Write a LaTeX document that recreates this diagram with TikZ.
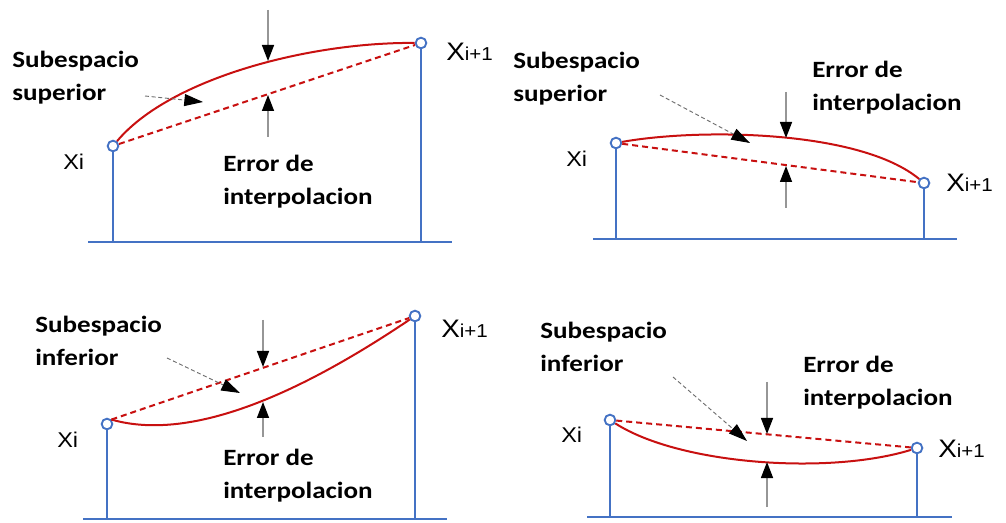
\documentclass[tikz,border=0pt]{standalone}
\usepackage{fontspec}
\usepackage{xcolor}
\usepackage{tikz}
\usetikzlibrary{arrows.meta, positioning, calc}

\newfontfamily\lblfont[FakeStretch=1.16]{Carlito}
\newfontfamily\xfont[FakeStretch=1.1]{Liberation Sans}

\definecolor{axisblue}{RGB}{68,114,196}
\definecolor{curvered}{RGB}{200,16,16}
\definecolor{shaftgray}{RGB}{150,150,150}
\definecolor{hintgray}{RGB}{110,110,110}

\newcommand{\xsub}{{\xfont\fontsize{16}{18}\selectfont Xi}}
\newcommand{\xsubnext}{{\xfont\fontsize{19}{21}\selectfont X\fontsize{14}{16}\selectfont i+1}}

\begin{document}
\begin{tikzpicture}[
          x=0.75pt, y=-0.75pt,
          pt/.style={circle, draw=axisblue, fill=white, line width=1.4pt, minimum size=8pt, inner sep=0pt},
          stem/.style={draw=axisblue, line width=1.6pt},
          ground/.style={draw=axisblue, line width=1.6pt},
          curve/.style={draw=curvered, line width=1.5pt},
          chord/.style={draw=curvered, line width=1.5pt, dash pattern=on 4.5pt off 3pt},
          errarrow/.style={draw=shaftgray, line width=1.1pt, -{Triangle[length=12pt, width=9pt, black]}},
          hintarrow/.style={draw=hintgray, line width=0.7pt, dash pattern=on 3pt off 2pt, -{Triangle[length=14pt, width=9pt, black]}},
          lbl/.style={font=\lblfont\bfseries\fontsize{17.5}{25}\selectfont, align=left, inner sep=0pt, anchor=north west},
          xlbl/.style={inner sep=0pt, anchor=base west}
        ]
          \useasboundingbox (0,0) rectangle (1006,523);

          % top left: upper subspace, rising
          \coordinate (g1l) at (88,242);
          \coordinate (g1r) at (452,242);
          \node[pt] (a1) at (113,146) {};
          \node[pt] (b1) at (421,43) {};
          \draw[ground] (g1l) -- (g1r);
          \draw[stem] (a1) -- (a1 |- g1l);
          \draw[stem] (b1) -- (b1 |- g1l);
          \draw[curve] (a1) .. controls (170,78) and (310,42) .. (b1);
          \draw[chord] (a1) -- (b1);
          \coordinate (t1) at (268,10);
          \coordinate (c1) at (268,61);
          \coordinate (d1) at (268,95);
          \coordinate (u1) at (268,137);
          \draw[errarrow] (t1) -- (c1);
          \draw[errarrow] (u1) -- (d1);
          \coordinate (h1) at (145,96);
          \coordinate (k1) at (203,102);
          \draw[hintarrow] (h1) -- (k1);
          \node[lbl] (s1) at (12,51) {Subespacio\\superior};
          \node[lbl] (e1) at (223,155) {Error de\\interpolacion};
          \node[xlbl] (x1) at (63,170) {\xsub};
          \node[xlbl] (y1) at (446,61) {\xsubnext};

          % top right: upper subspace, falling
          \coordinate (g2l) at (593,239);
          \coordinate (g2r) at (957,239);
          \node[pt] (a2) at (616,143) {};
          \node[pt] (b2) at (924,183) {};
          \draw[ground] (g2l) -- (g2r);
          \draw[stem] (a2) -- (a2 |- g2l);
          \draw[stem] (b2) -- (b2 |- g2l);
          \draw[curve] (a2) .. controls (700,128) and (860,130) .. (b2);
          \draw[chord] (a2) -- (b2);
          \coordinate (t2) at (786,92);
          \coordinate (c2) at (786,138);
          \coordinate (d2) at (786,166);
          \coordinate (u2) at (786,208);
          \draw[errarrow] (t2) -- (c2);
          \draw[errarrow] (u2) -- (d2);
          \coordinate (h2) at (660,95);
          \coordinate (k2) at (750,143);
          \draw[hintarrow] (h2) -- (k2);
          \node[lbl] (s2) at (513,52) {Subespacio\\superior};
          \node[lbl] (e2) at (812,61) {Error de\\interpolacion};
          \node[xlbl] (x2) at (566,167) {\xsub};
          \node[xlbl] (y2) at (946,192) {\xsubnext};

          % bottom left: lower subspace, rising
          \coordinate (g3l) at (83,519);
          \coordinate (g3r) at (447,519);
          \node[pt] (a3) at (107,424) {};
          \node[pt] (b3) at (415,316) {};
          \draw[ground] (g3l) -- (g3r);
          \draw[stem] (a3) -- (a3 |- g3l);
          \draw[stem] (b3) -- (b3 |- g3l);
          \draw[curve] (a3.north east) .. controls (200,445) and (320,380) .. (b3);
          \draw[chord] (a3.north east) -- (b3);
          \coordinate (t3) at (263,320);
          \coordinate (c3) at (263,367);
          \coordinate (d3) at (263,402);
          \coordinate (u3) at (263,437);
          \draw[errarrow] (t3) -- (c3);
          \draw[errarrow] (u3) -- (d3);
          \coordinate (h3) at (167,358);
          \coordinate (k3) at (240,393);
          \draw[hintarrow] (h3) -- (k3);
          \node[lbl] (s3) at (35,316) {Subespacio\\inferior};
          \node[lbl] (e3) at (223,449) {Error de\\interpolacion};
          \node[xlbl] (x3) at (57,447) {\xsub};
          \node[xlbl] (y3) at (441,338) {\xsubnext};

          % bottom right: lower subspace, falling
          \coordinate (g4l) at (587,517);
          \coordinate (g4r) at (952,517);
          \node[pt] (a4) at (610,420) {};
          \node[pt] (b4) at (917,448) {};
          \draw[ground] (g4l) -- (g4r);
          \draw[stem] (a4) -- (a4 |- g4l);
          \draw[stem] (b4) -- (b4 |- g4l);
          \draw[curve] (a4) .. controls (680,465) and (830,475) .. (b4);
          \draw[chord] (a4) -- (b4);
          \coordinate (t4) at (767,382);
          \coordinate (c4) at (767,434);
          \coordinate (d4) at (767,462);
          \coordinate (u4) at (767,507);
          \draw[errarrow] (t4) -- (c4);
          \draw[errarrow] (u4) -- (d4);
          \coordinate (h4) at (673,377);
          \coordinate (k4) at (747,441);
          \draw[hintarrow] (h4) -- (k4);
          \node[lbl] (s4) at (540,322) {Subespacio\\inferior};
          \node[lbl] (e4) at (803,356) {Error de\\interpolacion};
          \node[xlbl] (x4) at (561,443) {\xsub};
          \node[xlbl] (y4) at (938,458) {\xsubnext};
        \end{tikzpicture}
\end{document}
